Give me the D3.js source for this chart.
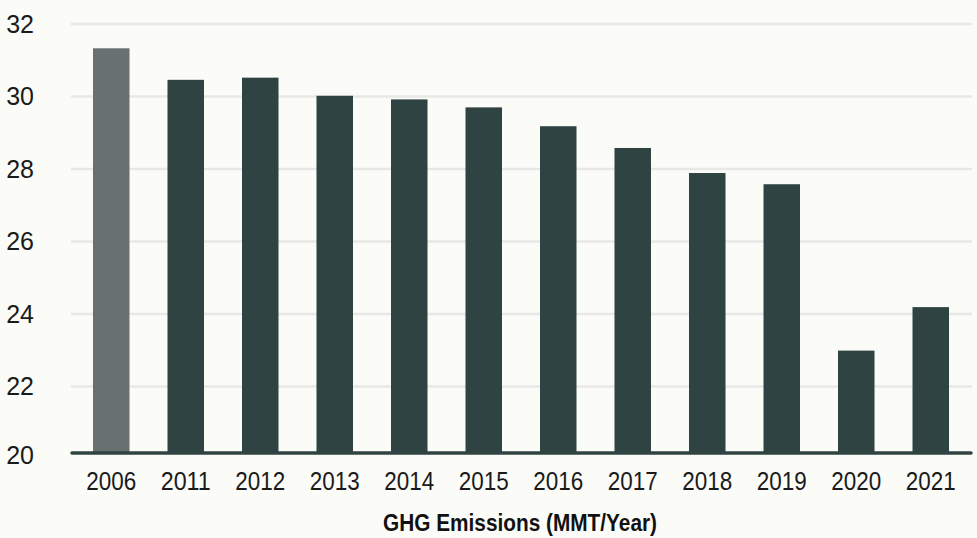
<!DOCTYPE html>
<html>
<head>
<meta charset="utf-8">
<script src="https://cdn.jsdelivr.net/npm/d3@7/dist/d3.min.js"></script>
<style>
  body { margin: 0; background: #fbfcf8; }
  svg { display: block; }
</style>
</head>
<body>
<div id="chart"></div>
<script>
// GHG emissions by year (MMT/Year)
const years = ["2006", "2011", "2012", "2013", "2014", "2015", "2016", "2017", "2018", "2019", "2020", "2021"];
const emissions = [31.33, 30.46, 30.52, 30.02, 29.92, 29.70, 29.18, 28.58, 27.89, 27.58, 22.99, 24.19];
const yTicks = [20, 22, 24, 26, 28, 30, 32];
const xTitle = "GHG Emissions (MMT/Year)";

const width = 977, height = 538;
const font = "'Liberation Sans', 'DejaVu Sans Condensed', sans-serif";

const svg = d3.select("#chart")
    .append("svg")
    .attr("width", width)
    .attr("height", height)
    .style("background-color", "#fbfcf8");

const data = years.map((y, i) => ({ year: y, value: emissions[i] }));

// scales
const x = d3.scaleBand()
    .domain(years)
    .range([74, 968])
    .paddingInner(0.51)
    .paddingOuter(0.255);

const y = d3.scaleLinear()
    .domain([20, 32])
    .range([459, 24]);

// baseline sits slightly above the 20 mark, like the original
const baseY = y(20) - 6;

// gridlines
svg.append("g")
    .selectAll("line")
    .data(yTicks.filter(d => d > 20))
    .join("line")
    .attr("x1", 71)
    .attr("x2", 972)
    .attr("y1", d => y(d))
    .attr("y2", d => y(d))
    .attr("stroke", "#e8e8e6")
    .attr("stroke-width", 2.5);

// y axis labels
const yAxis = d3.axisLeft(y).tickValues(yTicks).tickSize(0).tickPadding(0);
svg.append("g")
    .attr("transform", "translate(34,0)")
    .call(yAxis)
    .call(g => g.select(".domain").remove())
    .selectAll("text")
    .attr("y", d => d === 20 ? -4 : 0)
    .style("font-family", font)
    .style("font-size", "25px")
    .style("fill", "#1a1a1a");

// bars
svg.append("g")
    .selectAll("rect")
    .data(data)
    .join("rect")
    .attr("x", d => x(d.year))
    .attr("y", d => y(d.value))
    .attr("width", x.bandwidth())
    .attr("height", d => baseY - y(d.value))
    .attr("fill", (d, i) => i === 0 ? "#687170" : "#2f4442");

// baseline
svg.append("line")
    .attr("x1", 72)
    .attr("x2", 971)
    .attr("y1", baseY)
    .attr("y2", baseY)
    .attr("stroke", "#2f4442")
    .attr("stroke-width", 3.5)
    .attr("stroke-linecap", "round");

// x axis labels
const xAxis = d3.axisBottom(x).tickSize(0).tickPadding(0);
svg.append("g")
    .attr("transform", `translate(0,${baseY})`)
    .call(xAxis)
    .call(g => g.select(".domain").remove())
    .selectAll("text")
    .attr("dy", null)
    .attr("y", 37)
    .attr("textLength", 50)
    .attr("lengthAdjust", "spacingAndGlyphs")
    .style("font-family", font)
    .style("font-size", "25px")
    .style("fill", "#1a1a1a");

// axis title
svg.append("text")
    .attr("x", 520)
    .attr("y", 531)
    .attr("text-anchor", "middle")
    .attr("textLength", 274)
    .attr("lengthAdjust", "spacingAndGlyphs")
    .style("font-family", font)
    .style("font-size", "23px")
    .style("font-weight", "bold")
    .style("fill", "#111")
    .text(xTitle);
</script>
</body>
</html>
